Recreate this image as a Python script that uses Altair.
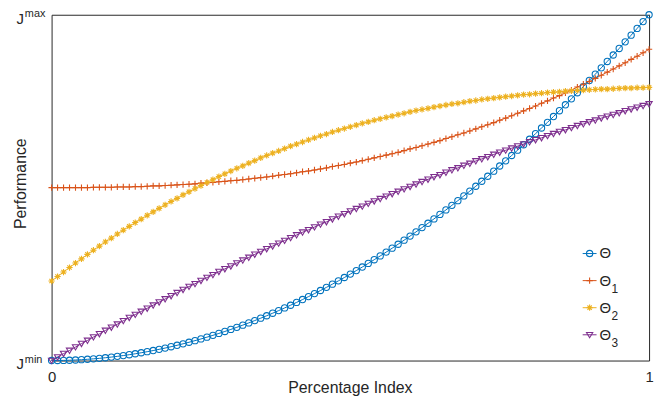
import altair as alt
import pandas as pd

# x positions (percentage index, 101 samples)
x_index = [i / 100 for i in range(101)]

theta = [0.0000,0.0001,0.0004,0.0009,0.0016,0.0025,0.0036,0.0049,0.0064,0.0081,
         0.0100,0.0121,0.0144,0.0169,0.0196,0.0225,0.0256,0.0289,0.0324,0.0361,
         0.0400,0.0441,0.0484,0.0529,0.0576,0.0625,0.0676,0.0729,0.0784,0.0841,
         0.0900,0.0961,0.1024,0.1089,0.1156,0.1225,0.1296,0.1369,0.1444,0.1521,
         0.1600,0.1681,0.1764,0.1849,0.1936,0.2025,0.2116,0.2209,0.2304,0.2401,
         0.2500,0.2601,0.2704,0.2809,0.2916,0.3025,0.3136,0.3249,0.3364,0.3481,
         0.3600,0.3721,0.3844,0.3969,0.4096,0.4225,0.4356,0.4489,0.4624,0.4761,
         0.4900,0.5041,0.5184,0.5329,0.5476,0.5625,0.5776,0.5929,0.6084,0.6241,
         0.6400,0.6561,0.6724,0.6889,0.7056,0.7225,0.7396,0.7569,0.7744,0.7921,
         0.8100,0.8281,0.8464,0.8649,0.8836,0.9025,0.9216,0.9409,0.9604,0.9801,1.0000]

theta1 = [0.500,0.500,0.500,0.500,0.500,0.500,0.500,0.501,0.501,0.501,
          0.501,0.502,0.502,0.502,0.503,0.503,0.504,0.505,0.505,0.506,
          0.507,0.508,0.509,0.510,0.511,0.513,0.514,0.515,0.517,0.518,
          0.520,0.521,0.523,0.525,0.527,0.529,0.531,0.533,0.536,0.538,
          0.540,0.543,0.546,0.548,0.551,0.554,0.557,0.561,0.564,0.567,
          0.571,0.574,0.578,0.582,0.586,0.590,0.594,0.598,0.602,0.607,
          0.612,0.616,0.621,0.626,0.631,0.636,0.642,0.647,0.653,0.658,
          0.664,0.670,0.676,0.682,0.688,0.695,0.701,0.708,0.715,0.722,
          0.729,0.736,0.744,0.751,0.759,0.766,0.774,0.782,0.791,0.799,
          0.807,0.816,0.825,0.834,0.843,0.852,0.861,0.871,0.880,0.890,0.900]

theta2 = [0.230,0.243,0.256,0.269,0.282,0.294,0.307,0.319,0.331,0.343,
          0.354,0.366,0.377,0.388,0.399,0.409,0.420,0.430,0.440,0.450,
          0.460,0.469,0.479,0.488,0.497,0.506,0.515,0.523,0.532,0.540,
          0.548,0.556,0.563,0.571,0.578,0.586,0.593,0.600,0.606,0.613,
          0.620,0.626,0.632,0.638,0.644,0.650,0.655,0.661,0.666,0.671,
          0.676,0.681,0.686,0.690,0.695,0.699,0.703,0.707,0.711,0.715,
          0.719,0.723,0.726,0.729,0.733,0.736,0.739,0.742,0.744,0.747,
          0.750,0.752,0.755,0.757,0.759,0.761,0.763,0.765,0.767,0.769,
          0.770,0.772,0.773,0.775,0.776,0.777,0.779,0.780,0.781,0.782,
          0.783,0.784,0.785,0.785,0.786,0.787,0.788,0.788,0.789,0.789,0.790]

theta3 = [0.000,0.010,0.020,0.029,0.039,0.049,0.058,0.068,0.077,0.087,
          0.096,0.105,0.115,0.124,0.133,0.142,0.151,0.160,0.169,0.178,
          0.187,0.196,0.205,0.214,0.222,0.231,0.240,0.248,0.257,0.265,
          0.273,0.282,0.290,0.298,0.307,0.315,0.323,0.331,0.339,0.347,
          0.355,0.363,0.371,0.378,0.386,0.394,0.401,0.409,0.417,0.424,
          0.432,0.439,0.446,0.454,0.461,0.468,0.475,0.482,0.489,0.496,
          0.503,0.510,0.517,0.524,0.531,0.537,0.544,0.551,0.557,0.564,
          0.570,0.577,0.583,0.589,0.596,0.602,0.608,0.614,0.620,0.626,
          0.632,0.638,0.644,0.650,0.656,0.662,0.667,0.673,0.679,0.684,
          0.690,0.695,0.701,0.706,0.711,0.716,0.722,0.727,0.732,0.737,0.742]

series_names = ["Θ", "Θ1", "Θ2", "Θ3"]
legend_subs = ["", "1", "2", "3"]
x_tick_values = [0, 1]
y_tick_values = [0, 1]
y_tick_sups = ["min", "max"]

colors = ["#0072BD", "#D95319", "#EDB120", "#7E2F8E"]
shapes = [
    "circle",
    "M-1,0H1M0,-1V1",
    "M-1,0H1M0,-1V1M-0.7,-0.7L0.7,0.7M-0.7,0.7L0.7,-0.7",
    "M-1,-0.75L1,-0.75L0,0.95Z",
]

FONT = "Liberation Sans"
TXT = "#262626"

rows = []
for name, vals in zip(series_names, [theta, theta1, theta2, theta3]):
    for xv, yv in zip(x_index, vals):
        rows.append({"series": name, "x": xv, "y": yv})
df = pd.DataFrame(rows)

color_scale = alt.Scale(domain=series_names, range=colors)
shape_scale = alt.Scale(domain=series_names, range=shapes)

x_enc = alt.X(
    "x:Q",
    scale=alt.Scale(domain=[0, 1], nice=False),
    axis=alt.Axis(
        values=x_tick_values, format="d", title="Percentage Index", grid=False, domain=False,
        ticks=False, tickSize=0, labelFlush=False, labelPadding=9,
        labelFontSize=15, labelFont=FONT, labelColor=TXT,
        titleFontSize=16, titleFont=FONT, titleColor=TXT, titleFontWeight="normal",
        titleX=301, titleY=32, titleBaseline="alphabetic", titleAlign="center",
    ),
)
y_axis = alt.Axis(
    title="Performance", labels=False, ticks=False, domain=False, grid=False,
    titleFontSize=16, titleFont=FONT, titleColor=TXT, titleFontWeight="normal",
    titleAngle=270, titleX=-31, titleY=170, titleBaseline="middle", titleAlign="center",
)
y_enc = alt.Y("y:Q", scale=alt.Scale(domain=[0, 1], nice=False), axis=y_axis)

base = alt.Chart(df)
lines = base.mark_line(strokeWidth=1).encode(
    x=x_enc, y=y_enc,
    color=alt.Color("series:N", scale=color_scale, legend=None),
)
points = base.mark_point(filled=False, strokeWidth=1.1, size=40, opacity=1).encode(
    x=x_enc, y=y_enc,
    color=alt.Color("series:N", scale=color_scale, legend=None),
    shape=alt.Shape("series:N", scale=shape_scale, legend=None),
)

ticks_df = pd.DataFrame({"y": y_tick_values, "sup": y_tick_sups})
j_text = alt.Chart(ticks_df).mark_text(
    text="J", align="right", baseline="alphabetic", dy=9, fontSize=15, font=FONT, color=TXT
).encode(x=alt.value(-28), y=y_enc)
sup_text = alt.Chart(ticks_df).mark_text(
    align="left", baseline="alphabetic", dy=2, fontSize=11, font=FONT, color=TXT
).encode(x=alt.value(-27), y=y_enc, text="sup:N")

main = alt.layer(lines, points, j_text, sup_text)

leg_df = pd.DataFrame({"series": series_names, "sub": legend_subs})
leg_y = alt.Y(
    "series:N",
    scale=alt.Scale(type="point", domain=series_names, range=[241, 323], padding=0),
    axis=None,
)
leg_base = alt.Chart(leg_df)
leg_rule = leg_base.mark_rule(strokeWidth=1).encode(
    x=alt.value(536), x2=alt.value(550), y=leg_y,
    color=alt.Color("series:N", scale=color_scale, legend=None),
)
leg_pt = leg_base.mark_point(filled=False, strokeWidth=1.1, size=40, opacity=1).encode(
    x=alt.value(543), y=leg_y,
    color=alt.Color("series:N", scale=color_scale, legend=None),
    shape=alt.Shape("series:N", scale=shape_scale, legend=None),
)
leg_theta = leg_base.mark_text(
    text="Θ", align="left", baseline="middle", fontSize=15, font=FONT, color=TXT
).encode(x=alt.value(553), y=leg_y)
leg_sub = leg_base.mark_text(
    align="left", baseline="middle", dy=8, fontSize=12, font=FONT, color=TXT
).encode(x=alt.value(565), y=leg_y, text="sub:N")

legend = alt.layer(leg_rule, leg_pt, leg_theta, leg_sub)

chart = (
    alt.layer(main, legend)
    .resolve_scale(y="independent")
    .properties(
        width=603, height=349,
        autosize=alt.AutoSizeParams(type="none"),
        padding={"left": 44, "top": 5, "right": 8, "bottom": 36},
    )
    .configure_view(stroke="#262626", strokeWidth=1)
)

chart.save("out.html", embed_options={"renderer": "svg", "actions": False})
